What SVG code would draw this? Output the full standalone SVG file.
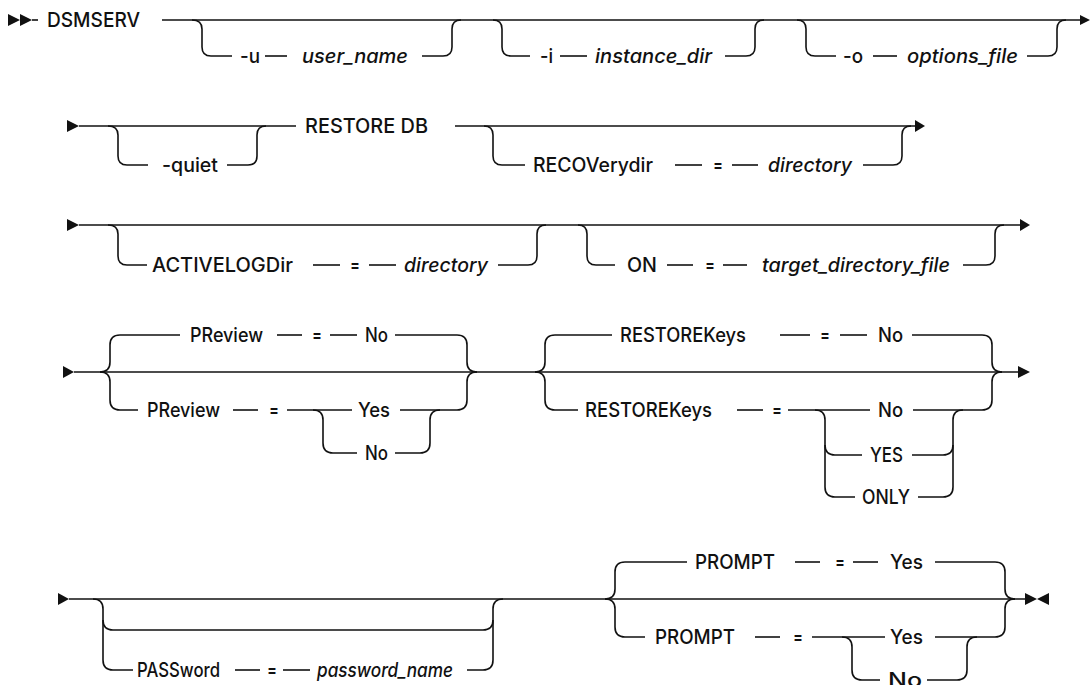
<svg xmlns="http://www.w3.org/2000/svg" width="1090" height="685" viewBox="0 0 1090 685">
<style>
.t{font-family:Inter,"Liberation Sans",Arial,sans-serif;font-size:20px;font-weight:500;fill:#111}
.i{font-style:italic}
.c path{fill:none;stroke:#111;stroke-width:1.6}
.c polygon{fill:#111;stroke:none}
</style>
<rect width="1090" height="685" fill="#fff"/>
<g id="connectors" class="c">
<polygon points="8,14 20,20 8,26"/><polygon points="20,14 32,20 20,26"/>
<path d="M32 20 H38"/>
<path d="M162 20 H1081"/><polygon points="1080,15 1090,20 1080,25"/>
<path d="M192 20 Q202 20 202 29 V47 Q202 56 211 56 H232"/>
<path d="M265 56 H287"/>
<path d="M422 56 H443 Q452 56 452 47 V29 Q452 20 461 20"/>
<path d="M493 20 Q502 20 502 29 V47 Q502 56 511 56 H530"/>
<path d="M560 56 H587"/>
<path d="M725 56 H746 Q755 56 755 47 V29 Q755 20 764 20"/>
<path d="M797 20 Q806 20 806 29 V47 Q806 56 815 56 H836"/>
<path d="M873 56 H897"/>
<path d="M1027 56 H1048 Q1057 56 1057 47 V29 Q1057 20 1066 20"/>

<polygon points="67,120 79,126 67,132"/>
<path d="M79 126 H296"/>
<path d="M455 126 H916"/><polygon points="915,120 925,126 915,132"/>
<path d="M108 126 Q118 126 118 135 V156 Q118 165 127 165 H148"/>
<path d="M227 165 H248 Q257 165 257 156 V135 Q257 126 266 126"/>
<path d="M484 126 Q493 126 493 135 V156 Q493 165 502 165 H525"/>
<path d="M675 165 H702"/><path d="M732 165 H758"/>
<path d="M863 165 H893 Q902 165 902 156 V135 Q902 126 911 126"/>

<polygon points="67,219 79,225 67,231"/>
<path d="M79 225 H1021"/><polygon points="1020,219 1030,225 1020,231"/>
<path d="M108 225 Q118 225 118 234 V256 Q118 265 127 265 H147"/>
<path d="M313 265 H340"/><path d="M369 265 H396"/>
<path d="M498 265 H528 Q537 265 537 256 V234 Q537 225 546 225"/>
<path d="M578 225 Q587 225 587 234 V256 Q587 265 596 265 H615"/>
<path d="M667 265 H693"/><path d="M723 265 H747"/>
<path d="M963 265 H986 Q995 265 995 256 V234 Q995 225 1004 225"/>

<polygon points="63,366 74,372 63,378"/>
<path d="M74 372 H1019"/><polygon points="1018,366 1030,372 1018,378"/>
<path d="M100 372 Q110 372 110 362 V345 Q110 335 120 335 H180"/>
<path d="M100 372 Q110 372 110 382 V400 Q110 410 120 410 H138"/>
<path d="M277 335 H302"/><path d="M330 335 H357"/>
<path d="M395 335 H457 Q467 335 467 345 V362 Q467 372 477 372"/>
<path d="M233 410 H258"/>
<path d="M287 410 H352"/>
<path d="M313 410 Q323 410 323 420 V443 Q323 453 333 453 H357"/>
<path d="M395 453 H420 Q430 453 430 443 V420 Q430 410 440 410"/>
<path d="M400 410 H457 Q467 410 467 400 V382 Q467 372 477 372"/>
<path d="M535 372 Q545 372 545 362 V345 Q545 335 555 335 H612"/>
<path d="M535 372 Q545 372 545 382 V400 Q545 410 555 410 H578"/>
<path d="M780 335 H810"/><path d="M840 335 H867"/>
<path d="M912 335 H982 Q992 335 992 345 V362 Q992 372 1002 372"/>
<path d="M737 410 H763"/>
<path d="M788 410 H870"/>
<path d="M815 410 Q825 410 825 420 V487 Q825 497 835 497 H855"/>
<path d="M825 445 Q825 455 835 455 H862"/>
<path d="M913 410 H982 Q992 410 992 400 V382 Q992 372 1002 372"/>
<path d="M912 455 H943 Q953 455 953 445"/>
<path d="M918 497 H943 Q953 497 953 487 V420 Q953 410 963 410"/>

<polygon points="58,593 69,599 58,605"/>
<path d="M69 599 H1026"/>
<polygon points="1025,593 1037,599 1025,605"/><polygon points="1049,593 1037,599 1049,605"/>
<path d="M93 599 Q103 599 103 609 V620 Q103 630 113 630 H483 Q493 630 493 620 V609 Q493 599 503 599"/>
<path d="M103 620 V660 Q103 670 113 670 H133"/>
<path d="M235 670 H260"/><path d="M283 670 H310"/>
<path d="M467 670 H483 Q493 670 493 660 V620"/>
<path d="M605 599 Q615 599 615 589 V572 Q615 562 625 562 H687"/>
<path d="M605 599 Q615 599 615 609 V627 Q615 637 625 637 H645"/>
<path d="M795 562 H820"/><path d="M853 562 H878"/>
<path d="M935 562 H995 Q1005 562 1005 572 V589 Q1005 599 1015 599"/>
<path d="M755 637 H780"/>
<path d="M812 637 H885"/>
<path d="M842 637 Q852 637 852 647 V670 Q852 680 862 680 H880"/>
<path d="M927 680 H957 Q967 680 967 670 V647 Q967 637 977 637"/>
<path d="M935 637 H995 Q1005 637 1005 627 V609 Q1005 599 1015 599"/>
</g>

<g id="n-dsmserv"><text class="t" x="47" y="27" textLength="93" lengthAdjust="spacingAndGlyphs">DSMSERV</text></g>
<g id="n-u"><text class="t" x="240" y="63" textLength="20" lengthAdjust="spacingAndGlyphs">-u</text></g>
<g id="n-user_name"><text class="t i" x="302" y="63" textLength="106" lengthAdjust="spacingAndGlyphs">user_name</text></g>
<g id="n-i"><text class="t" x="540" y="63" textLength="13" lengthAdjust="spacingAndGlyphs">-i</text></g>
<g id="n-instance_dir"><text class="t i" x="595" y="63" textLength="117" lengthAdjust="spacingAndGlyphs">instance_dir</text></g>
<g id="n-o"><text class="t" x="843" y="63" textLength="20" lengthAdjust="spacingAndGlyphs">-o</text></g>
<g id="n-options_file"><text class="t i" x="907" y="63" textLength="111" lengthAdjust="spacingAndGlyphs">options_file</text></g>

<g id="n-quiet"><text class="t" x="162" y="172" textLength="56" lengthAdjust="spacingAndGlyphs">-quiet</text></g>
<g id="n-restoredb"><text class="t" x="305" y="133" textLength="123" lengthAdjust="spacingAndGlyphs">RESTORE DB</text></g>
<g id="n-recoverydir"><text class="t" x="533" y="172" textLength="120" lengthAdjust="spacingAndGlyphs">RECOVerydir</text></g>
<g id="n-eq1"><text class="t" x="713" y="172" textLength="10" lengthAdjust="spacingAndGlyphs">=</text></g>
<g id="n-directory1"><text class="t i" x="768" y="172" textLength="84" lengthAdjust="spacingAndGlyphs">directory</text></g>

<g id="n-activelogdir"><text class="t" x="152" y="272" textLength="141" lengthAdjust="spacingAndGlyphs">ACTIVELOGDir</text></g>
<g id="n-eq2"><text class="t" x="350" y="272" textLength="10" lengthAdjust="spacingAndGlyphs">=</text></g>
<g id="n-directory2"><text class="t i" x="404" y="272" textLength="84" lengthAdjust="spacingAndGlyphs">directory</text></g>
<g id="n-on"><text class="t" x="627" y="272" textLength="30" lengthAdjust="spacingAndGlyphs">ON</text></g>
<g id="n-eq3"><text class="t" x="705" y="272" textLength="10" lengthAdjust="spacingAndGlyphs">=</text></g>
<g id="n-target"><text class="t i" x="762" y="272" textLength="188" lengthAdjust="spacingAndGlyphs">target_directory_file</text></g>

<g id="n-preview-def"><text class="t" x="190" y="342" textLength="73" lengthAdjust="spacingAndGlyphs">PReview</text></g>
<g id="n-eq4"><text class="t" x="312" y="342" textLength="10" lengthAdjust="spacingAndGlyphs">=</text></g>
<g id="n-no1"><text class="t" x="365" y="342" textLength="23" lengthAdjust="spacingAndGlyphs">No</text></g>
<g id="n-preview"><text class="t" x="147" y="417" textLength="73" lengthAdjust="spacingAndGlyphs">PReview</text></g>
<g id="n-eq5"><text class="t" x="269" y="417" textLength="10" lengthAdjust="spacingAndGlyphs">=</text></g>
<g id="n-yes1"><text class="t" x="358" y="417" textLength="32" lengthAdjust="spacingAndGlyphs">Yes</text></g>
<g id="n-no2"><text class="t" x="365" y="460" textLength="23" lengthAdjust="spacingAndGlyphs">No</text></g>
<g id="n-restorekeys-def"><text class="t" x="620" y="342" textLength="126" lengthAdjust="spacingAndGlyphs">RESTOREKeys</text></g>
<g id="n-eq6"><text class="t" x="820" y="342" textLength="10" lengthAdjust="spacingAndGlyphs">=</text></g>
<g id="n-no3"><text class="t" x="878" y="342" textLength="25" lengthAdjust="spacingAndGlyphs">No</text></g>
<g id="n-restorekeys"><text class="t" x="585" y="417" textLength="127" lengthAdjust="spacingAndGlyphs">RESTOREKeys</text></g>
<g id="n-eq7"><text class="t" x="772" y="417" textLength="10" lengthAdjust="spacingAndGlyphs">=</text></g>
<g id="n-no4"><text class="t" x="878" y="417" textLength="25" lengthAdjust="spacingAndGlyphs">No</text></g>
<g id="n-yes2"><text class="t" x="870" y="462" textLength="33" lengthAdjust="spacingAndGlyphs">YES</text></g>
<g id="n-only"><text class="t" x="862" y="504" textLength="48" lengthAdjust="spacingAndGlyphs">ONLY</text></g>

<g id="n-password"><text class="t" x="137" y="677" textLength="83" lengthAdjust="spacingAndGlyphs">PASSword</text></g>
<g id="n-eq8"><text class="t" x="267" y="677" textLength="10" lengthAdjust="spacingAndGlyphs">=</text></g>
<g id="n-password_name"><text class="t i" x="317" y="677" textLength="136" lengthAdjust="spacingAndGlyphs">password_name</text></g>
<g id="n-prompt-def"><text class="t" x="695" y="569" textLength="80" lengthAdjust="spacingAndGlyphs">PROMPT</text></g>
<g id="n-eq9"><text class="t" x="835" y="569" textLength="10" lengthAdjust="spacingAndGlyphs">=</text></g>
<g id="n-yes3"><text class="t" x="890" y="569" textLength="33" lengthAdjust="spacingAndGlyphs">Yes</text></g>
<g id="n-prompt"><text class="t" x="655" y="644" textLength="80" lengthAdjust="spacingAndGlyphs">PROMPT</text></g>
<g id="n-eq10"><text class="t" x="793" y="644" textLength="10" lengthAdjust="spacingAndGlyphs">=</text></g>
<g id="n-yes4"><text class="t" x="890" y="644" textLength="33" lengthAdjust="spacingAndGlyphs">Yes</text></g>
<g id="n-no5"><text class="t" x="888" y="687" textLength="34" lengthAdjust="spacingAndGlyphs">No</text></g>
</svg>
